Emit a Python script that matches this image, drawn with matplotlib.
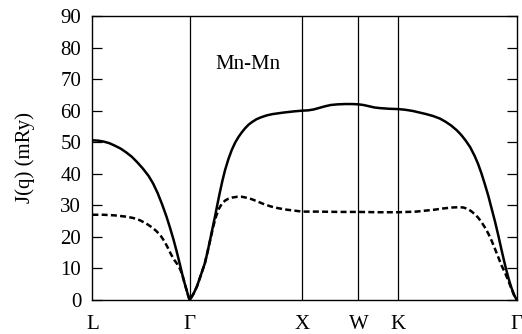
import matplotlib
matplotlib.use("Agg")
import matplotlib.pyplot as plt

plt.rcParams["font.family"] = ["Liberation Serif", "DejaVu Serif"]

# high-symmetry points along the path
sym_labels = ["L", "Γ", "X", "W", "K", "Γ"]
sym_pos = [0.0, 0.866, 1.866, 2.366, 2.72, 3.774]

# solid curve J(q)
q_solid = [0.0, 0.05, 0.1, 0.15, 0.2, 0.25, 0.3, 0.35, 0.4, 0.45, 0.5, 0.54, 0.58, 0.62, 0.66,
           0.69, 0.72, 0.75, 0.78, 0.80, 0.82, 0.84, 0.855, 0.866,
           0.88, 0.9, 0.93, 0.96, 1.0, 1.025, 1.05, 1.07, 1.09, 1.11, 1.13, 1.155, 1.18, 1.21,
           1.24, 1.27, 1.30, 1.33, 1.36, 1.39, 1.42, 1.46, 1.5, 1.55, 1.6, 1.7, 1.8, 1.866,
           1.92, 1.97, 2.02, 2.07, 2.12, 2.18, 2.25, 2.31, 2.366, 2.41, 2.46, 2.51, 2.56, 2.64, 2.72,
           2.78, 2.85, 2.91, 2.97, 3.03, 3.09, 3.14, 3.19, 3.24, 3.28, 3.32, 3.36, 3.40, 3.43,
           3.46, 3.49, 3.52, 3.55, 3.58, 3.61, 3.64, 3.67, 3.70, 3.725, 3.75, 3.765, 3.774]
j_solid = [50.6, 50.5, 50.2, 49.7, 48.9, 48.0, 46.8, 45.4, 43.6, 41.6, 39.3, 36.9, 33.9, 30.3, 26.3,
           22.9, 19.3, 15.3, 11.0, 8.0, 5.3, 2.8, 1.0, 0.0,
           0.8, 2.0, 4.3, 7.4, 11.6, 15.4, 19.6, 23.0, 26.4, 30.0, 33.5, 37.6, 41.2, 44.7,
           47.6, 49.9, 51.7, 53.2, 54.5, 55.6, 56.4, 57.3, 57.9, 58.5, 58.9, 59.4, 59.8, 60.0,
           60.1, 60.4, 60.9, 61.4, 61.8, 62.0, 62.1, 62.1, 62.0, 61.8, 61.4, 61.0, 60.8, 60.6, 60.5,
           60.3, 59.9, 59.4, 58.9, 58.3, 57.5, 56.5, 55.3, 53.8, 52.3, 50.5, 48.4, 45.6, 43.1,
           40.1, 36.7, 33.1, 29.0, 24.9, 20.4, 15.6, 11.0, 6.9, 4.0, 1.6, 0.6, 0.0]

# dashed curve J(q)
q_dashed = [0.0, 0.1, 0.2, 0.3, 0.36, 0.42, 0.48, 0.53, 0.57, 0.61, 0.64, 0.67, 0.70, 0.73,
            0.75, 0.78, 0.80, 0.82, 0.84, 0.855, 0.866,
            0.88, 0.9, 0.93, 0.96, 1.0, 1.025, 1.05, 1.075, 1.10, 1.125, 1.15, 1.18, 1.21, 1.25,
            1.29, 1.33, 1.37, 1.42, 1.475, 1.53, 1.59, 1.65, 1.73, 1.80, 1.866,
            2.0, 2.2, 2.366, 2.55, 2.72,
            2.8, 2.88, 2.96, 3.04, 3.12, 3.2, 3.26, 3.30, 3.34, 3.37, 3.40, 3.43, 3.46, 3.49,
            3.52, 3.55, 3.58, 3.61, 3.64, 3.67, 3.70, 3.725, 3.75, 3.765, 3.774]
j_dashed = [27.0, 27.0, 26.8, 26.4, 26.0, 25.3, 24.2, 23.0, 21.8, 20.2, 18.6, 16.6, 14.4, 12.6,
            11.6, 9.8, 7.9, 5.3, 2.8, 1.0, 0.0,
            0.8, 2.0, 4.3, 7.4, 11.6, 15.4, 19.3, 23.3, 26.5, 28.9, 30.4, 31.5, 32.1, 32.5,
            32.7, 32.7, 32.4, 31.9, 31.1, 30.3, 29.6, 29.1, 28.6, 28.3, 28.0,
            28.0, 27.9, 27.9, 27.8, 27.8,
            27.9, 28.0, 28.3, 28.6, 29.0, 29.3, 29.4, 29.3, 28.8, 28.1, 27.2, 26.1, 24.7, 23.0,
            21.1, 18.8, 16.2, 13.5, 10.8, 8.6, 6.0, 3.7, 1.5, 0.5, 0.0]

fig = plt.figure(figsize=(5.22, 3.34), dpi=100)
ax = fig.add_axes([0.177, 0.102, 0.813, 0.850])

for x in sym_pos[1:-1]:
    ax.axvline(x, color="black", lw=0.9)

ax.plot(q_solid, j_solid, color="black", lw=1.8, solid_joinstyle="round")
ax.plot(q_dashed, j_dashed, color="black", lw=1.8, linestyle=(0, (2.4, 1.3)))

ax.text(1.38, 74.5, "Mn-Mn", ha="center", va="center", fontsize=15)

ax.set_xlim(sym_pos[0], sym_pos[-1])
ax.set_ylim(0, 90)
ax.set_xticks(sym_pos)
ax.set_xticklabels(sym_labels, fontsize=15)
ax.set_yticks(range(0, 91, 10))
ax.tick_params(axis="y", direction="in", length=7, width=0.9, right=True, labelsize=15, pad=8)
ax.tick_params(axis="x", length=0, pad=11)
ax.set_ylabel("J(q) (mRy)", fontsize=15, labelpad=18)
for s in ax.spines.values():
    s.set_linewidth(1.0)

fig.savefig("out.png", dpi=100)
